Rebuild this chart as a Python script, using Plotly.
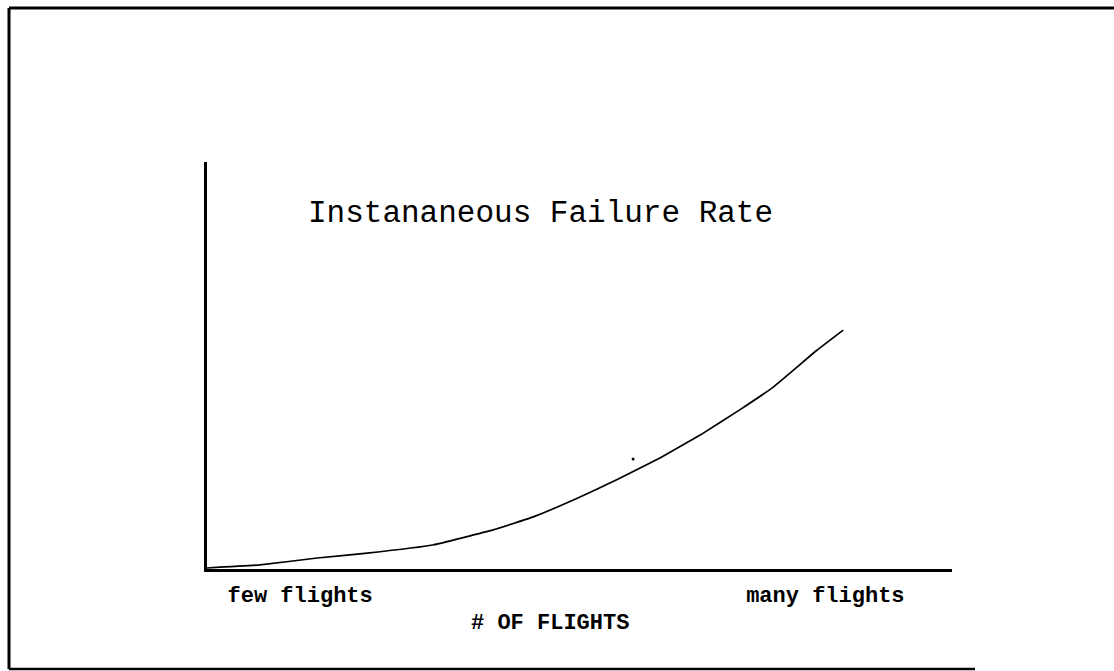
import plotly.graph_objects as go

# Data (in 0-100 relative units)
flights = [0, 7.1, 14.8, 21.5, 30.3, 38.4, 43.8, 49.7, 55.2, 60.8, 66.2, 71.5, 76.0, 81.9, 85.4]
failure_rate = [0.25, 1.0, 2.7, 3.9, 5.9, 9.6, 12.8, 17.4, 22.1, 27.3, 32.9, 39.1, 44.7, 53.8, 58.7]
speck_x = [57.2]
speck_y = [27.0]
tick_positions = [12.5, 83]
tick_labels = ["few flights", "many flights"]
title_text = "Instananeous Failure Rate"
xaxis_title = "# OF FLIGHTS"

W, H = 1114, 671
L, R, T, B = 207, 952, 162, 569

fig = go.Figure()
fig.add_trace(go.Scatter(x=flights, y=failure_rate, mode="lines",
                         line=dict(color="black", width=1.7, shape="spline", smoothing=0.3),
                         hoverinfo="skip", showlegend=False))
fig.add_trace(go.Scatter(x=speck_x, y=speck_y, mode="markers",
                         marker=dict(color="black", size=3), hoverinfo="skip", showlegend=False))

def px2paper_x(px):
    return (px - L) / (R - L)

def px2paper_y(py):
    return (B - py) / (B - T)

shapes = [
    dict(type="line", xref="paper", yref="paper", x0=px2paper_x(9), x1=px2paper_x(1114),
         y0=px2paper_y(8), y1=px2paper_y(8), line=dict(color="black", width=3)),
    dict(type="line", xref="paper", yref="paper", x0=px2paper_x(9), x1=px2paper_x(9),
         y0=px2paper_y(8), y1=px2paper_y(669), line=dict(color="black", width=3)),
    dict(type="line", xref="paper", yref="paper", x0=px2paper_x(9), x1=px2paper_x(975),
         y0=px2paper_y(669), y1=px2paper_y(669), line=dict(color="black", width=2.5)),
]

annotations = [
    dict(text=title_text, xref="paper", yref="paper", x=px2paper_x(540), y=px2paper_y(214),
         xanchor="center", yanchor="middle", showarrow=False,
         font=dict(family="Liberation Mono", size=31, color="black")),
    dict(text="<b>" + xaxis_title + "</b>", xref="paper", yref="paper", x=px2paper_x(550),
         y=px2paper_y(623), xanchor="center", yanchor="middle", showarrow=False,
         font=dict(family="Liberation Mono", size=22, color="black")),
]

fig.update_layout(
    width=W, height=H,
    margin=dict(l=L, r=W - R, t=T, b=H - B, pad=0),
    paper_bgcolor="white", plot_bgcolor="white",
    shapes=shapes, annotations=annotations,
    xaxis=dict(range=[0, 100], showgrid=False, zeroline=False, showline=True,
               linecolor="black", linewidth=3, ticks="", tickvals=tick_positions,
               ticktext=["<b>" + t + "</b>" for t in tick_labels],
               tickfont=dict(family="Liberation Mono", size=22, color="black"),
               ticklabelstandoff=4, fixedrange=True),
    yaxis=dict(range=[0, 100], showgrid=False, zeroline=False, showline=True,
               linecolor="black", linewidth=3, ticks="", showticklabels=False,
               fixedrange=True),
)

fig.write_html("out.html", config={"displayModeBar": False},
               post_script="document.body.style.margin='0';document.body.style.overflow='hidden';")
